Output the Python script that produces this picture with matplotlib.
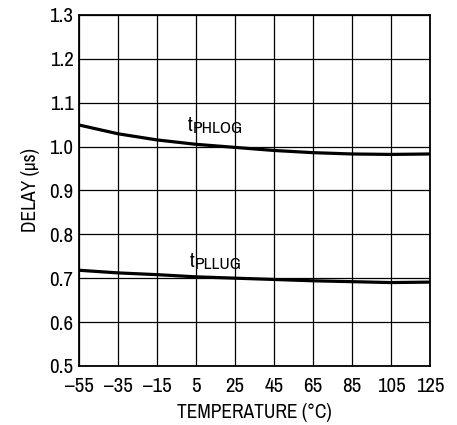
import matplotlib
matplotlib.use("Agg")
import matplotlib.pyplot as plt

plt.rcParams['font.family'] = ['Archivo Narrow', 'Liberation Sans', 'DejaVu Sans']

temps = [-55, -35, -15, 5, 25, 45, 65, 85, 105, 125]
t_phlog = [1.049, 1.029, 1.015, 1.005, 0.998, 0.991, 0.986, 0.983, 0.982, 0.983]
t_pllug = [0.718, 0.712, 0.708, 0.703, 0.700, 0.697, 0.694, 0.692, 0.690, 0.691]

xticks = [-55, -35, -15, 5, 25, 45, 65, 85, 105, 125]
xlabels = ['\u201355', '\u201335', '\u201315', '5', '25', '45', '65', '85', '105', '125']
yticks = [0.5, 0.6, 0.7, 0.8, 0.9, 1.0, 1.1, 1.2, 1.3]

fig = plt.figure(figsize=(4.57, 4.25), dpi=100)
ax = fig.add_axes([0.173, 0.139, 0.768, 0.826])

ax.plot(temps, t_phlog, color='black', lw=2.3, solid_capstyle='butt')
ax.plot(temps, t_pllug, color='black', lw=2.3, solid_capstyle='butt')

ax.set_xlim(-55, 125)
ax.set_ylim(0.5, 1.3)
ax.set_xticks(xticks)
ax.set_xticklabels(xlabels)
ax.set_yticks(yticks)
ax.set_yticklabels(['%.1f' % v for v in yticks])
ax.grid(True, color='black', lw=0.9)
ax.tick_params(axis='both', length=0, labelsize=15)
ax.tick_params(axis='y', pad=4)
ax.tick_params(axis='x', pad=8)
for s in ax.spines.values():
    s.set_linewidth(1.3)

# curve labels: t with subscript
def curve_label(x, y, sub):
    ax.text(x, y, 't', fontsize=15)
    ax.annotate(sub, xy=(x, y), xytext=(3.6, -1.5), textcoords='offset points',
                fontsize=12.5)

curve_label(0.9, 1.036, 'PHLOG')
curve_label(1.9, 0.726, 'PLLUG')

ax.set_xlabel('TEMPERATURE (\u00b0C)', fontsize=14, labelpad=5)
ax.set_ylabel('DELAY (\u03bcs)', fontsize=14, labelpad=7)

fig.savefig('out.png', dpi=100)
